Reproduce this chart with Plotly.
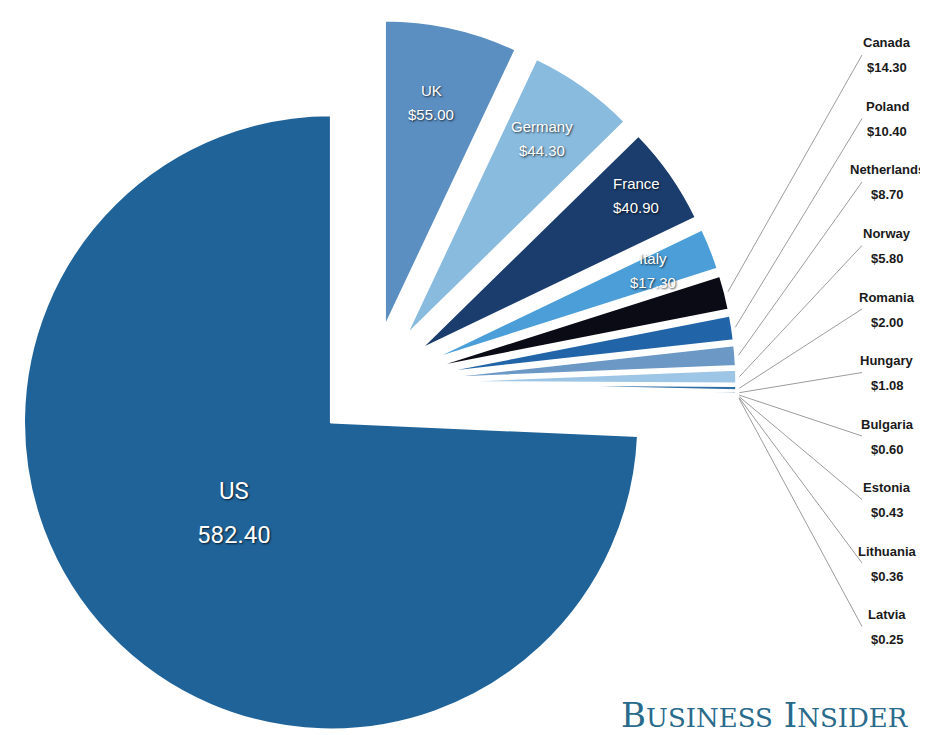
import math
import plotly.graph_objects as go

# ---- data ----
countries = ["UK", "Germany", "France", "Italy", "Canada", "Poland", "Netherlands",
             "Norway", "Romania", "Hungary", "Bulgaria", "Estonia", "Lithuania", "Latvia", "US"]
spending = [55.00, 44.30, 40.90, 17.30, 14.30, 10.40, 8.70,
            5.80, 2.00, 1.08, 0.60, 0.43, 0.36, 0.25, 582.40]
value_labels = ["$55.00", "$44.30", "$40.90", "$17.30", "$14.30", "$10.40", "$8.70",
                "$5.80", "$2.00", "$1.08", "$0.60", "$0.43", "$0.36", "$0.25", "582.40"]
colors = ["#5b8ec1", "#89bbdf", "#1b3d6d", "#4b9ed8", "#0b0b16", "#2264a8", "#6c98c6",
          "#9dc5e5", "#2f6fa6", "#1c4f82", "#4f88bd", "#7fb0d8", "#2a5f95", "#5a93c6", "#1f6399"]
inside_names = ["UK", "Germany", "France", "Italy"]
outside_names = ["Canada", "Poland", "Netherlands", "Norway", "Romania",
                 "Hungary", "Bulgaria", "Estonia", "Lithuania", "Latvia"]

# ---- layout constants ----
W, H = 928, 750          # figure slightly taller than the window: pie bottom is cropped as in the original
OFF = 8                  # page body margin
PULL = 0.185
DOM_X = [0.0, 0.785]

fig = go.Figure(go.Pie(
    labels=countries, values=spending, sort=False, direction="clockwise", rotation=0,
    pull=[PULL] * len(countries), textinfo="none", hoverinfo="label+value",
    marker=dict(colors=colors, line=dict(color="white", width=2.5)),
    domain=dict(x=DOM_X, y=[0, 1]),
))

# pie geometry (same rule plotly uses) to anchor labels and leader lines
r = min(W * (DOM_X[1] - DOM_X[0]) / 2, H / 2) / (1 + PULL)
cx = W * (DOM_X[0] + DOM_X[1]) / 2
cy = H / 2
total = sum(spending)
mids = []
acc = 0.0
for v in spending:
    a0 = acc / total * 2 * math.pi
    acc += v
    a1 = acc / total * 2 * math.pi
    mids.append((a0 + a1) / 2)


def slice_point(i, rho):
    m = mids[i]
    d = PULL * r + rho
    return cx + d * math.sin(m), cy - d * math.cos(m)


def fx(x):            # figure px -> paper
    return x / W


def fy(y):
    return 1 - y / H


def sx(x):            # screen px -> paper
    return (x - OFF) / W


def sy(y):
    return 1 - (y - OFF) / H


annotations = []
shapes = []
shadow = "1px 1px 2px rgba(0,0,0,0.75)"
base = dict(xref="paper", yref="paper", showarrow=False, xanchor="center", yanchor="middle")

# inside labels
inside_frac = [0.75, 0.79, 0.88, 0.81]
in_font = dict(family="Liberation Sans Narrow, Liberation Sans, sans-serif", size=15, color="white", shadow=shadow)
for name, f in zip(inside_names, inside_frac):
    i = countries.index(name)
    x, y = slice_point(i, f * r)
    annotations.append(dict(base, x=fx(x - 4), y=fy(y - 12), text=name, font=in_font))
    annotations.append(dict(base, x=fx(x - 4), y=fy(y + 12), text=value_labels[i], font=in_font))
iu = countries.index("US")
x, y = slice_point(iu, 0.43 * r)
us_font = dict(family="Roboto, sans-serif", size=24, color="white", shadow=shadow)
annotations.append(dict(base, x=fx(x - 2), y=fy(y - 23), text="US", font=us_font))
annotations.append(dict(base, x=fx(x - 2), y=fy(y + 21), text=value_labels[iu], font=us_font))

# outside labels in a column with leader lines
COL_X = 887
LINE_X = 862
TOP_Y = 55
STEP = 63.5
lab_font = dict(family="Liberation Sans, Arial, sans-serif", size=13, color="#1a1a1a")
for k, name in enumerate(outside_names):
    i = countries.index(name)
    gy = TOP_Y + k * STEP
    annotations.append(dict(base, x=sx(COL_X), y=sy(gy - 12), text="<b>" + name + "</b>", font=lab_font))
    annotations.append(dict(base, x=sx(COL_X), y=sy(gy + 13), text="<b>" + value_labels[i] + "</b>", font=lab_font))
    ex, ey = slice_point(i, r + 3)
    shapes.append(dict(type="line", xref="paper", yref="paper",
                       x0=fx(ex), y0=fy(ey), x1=sx(LINE_X), y1=sy(gy),
                       line=dict(color="#9c9c9c", width=1)))

# logo
annotations.append(dict(base, x=sx(765), y=sy(715),
                        text="B<span style='font-size:26px'>USINESS</span> I<span style='font-size:26px'>NSIDER</span>",
                        font=dict(family="DejaVu Serif, serif", size=34, color="#2a6b8b")))

fig.update_layout(width=W, height=H, margin=dict(l=0, r=0, t=0, b=0),
                  paper_bgcolor="white", plot_bgcolor="white", showlegend=False,
                  annotations=annotations, shapes=shapes)

fig.write_html("out.html")
